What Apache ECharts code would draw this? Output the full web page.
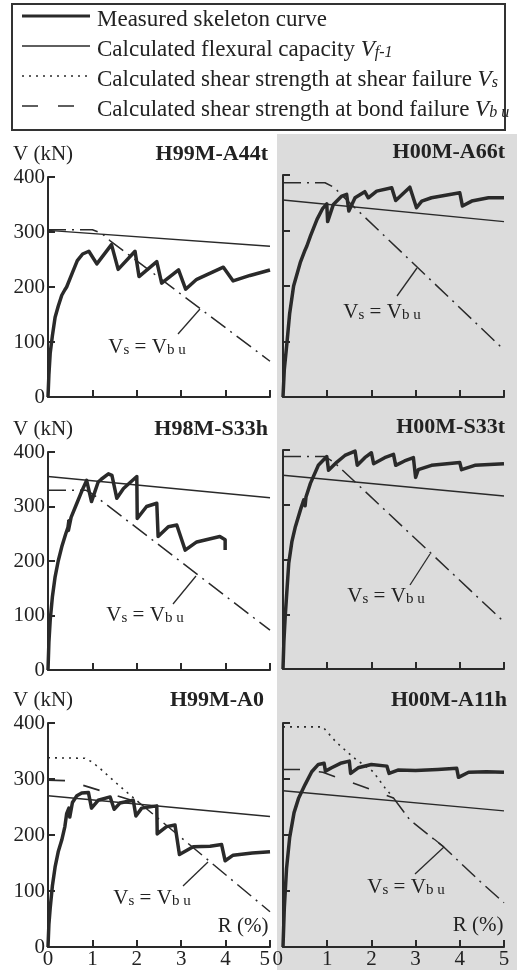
<!DOCTYPE html>
<html>
<head>
<meta charset="utf-8">
<title>Skeleton curves</title>
<script src="https://cdn.jsdelivr.net/npm/echarts@6.0.0/dist/echarts.min.js"></script>
<style>
html, body { margin: 0; padding: 0; background: #fff; }
#main { width: 517px; height: 970px; }
</style>
</head>
<body>
<div id="main"></div>
<script>
var xTicks = [0, 1, 2, 3, 4, 5];
var yTicks = [0, 100, 200, 300, 400];

var panelTitles = ["H99M-A44t", "H00M-A66t", "H98M-S33h", "H00M-S33t", "H99M-A0", "H00M-A11h"];
var legendNames = ["Measured skeleton curve", "Calculated flexural capacity", "Calculated shear strength at shear failure", "Calculated shear strength at bond failure"];

// [R (%), V (kN)]
var a44tSkeleton = [[0,0],[0.02,40],[0.05,80],[0.1,112],[0.16,145],[0.23,165],[0.31,185],[0.38,195],[0.42,200],[0.46,202],[0.55,226],[0.66,248],[0.78,260],[0.92,265],[1.1,242],[1.43,277],[1.58,232],[1.96,265],[2.05,219],[2.45,246],[2.56,207],[2.94,231],[3.1,196],[3.35,214],[3.95,236],[4.17,211],[4.55,221],[5,231]];
var a44tFlexural = [[0,303],[5,274]];
var a44tShearBond = [[0,304],[1.0,304],[1.2,298],[1.4,284],[5,65]];

var a66tSkeleton = [[0,0],[0.03,50],[0.09,98],[0.15,150],[0.24,200],[0.39,242],[0.5,265],[0.54,272],[0.56,270],[0.62,290],[0.77,320],[0.9,340],[0.99,348],[1.01,316],[1.14,347],[1.33,362],[1.44,365],[1.49,335],[1.63,359],[1.85,370],[1.93,359],[2.12,371],[2.46,377],[2.55,354],[2.87,378],[3.02,341],[3.14,353],[3.36,359],[4.0,368],[4.06,344],[4.27,353],[4.65,359],[5,359]];
var a66tFlexural = [[0,355],[5,316]];
var a66tShearBond = [[0,386],[0.95,386],[1.15,378],[1.35,362],[5,85]];

var s33hSkeleton = [[0,0],[0.02,50],[0.05,92],[0.1,135],[0.16,171],[0.23,200],[0.31,226],[0.4,250],[0.45,262],[0.47,274],[0.46,256],[0.52,280],[0.65,306],[0.75,326],[0.87,348],[0.98,309],[1.13,345],[1.2,350],[1.36,360],[1.44,357],[1.55,315],[1.7,333],[2.0,355],[2.01,278],[2.22,300],[2.45,306],[2.48,245],[2.71,263],[2.9,266],[3.09,220],[3.35,235],[3.87,245],[3.99,239],[3.99,220]];
var s33hFlexural = [[0,355],[5,316]];
var s33hShearBond = [[0,330],[0.85,330],[1.02,322],[5,73]];

var s33tSkeleton = [[0,0],[0.02,50],[0.05,96],[0.13,193],[0.2,232],[0.28,260],[0.4,292],[0.47,309],[0.5,298],[0.52,314],[0.62,339],[0.8,372],[0.99,388],[1.03,363],[1.22,378],[1.4,390],[1.63,398],[1.68,372],[1.85,386],[2.0,395],[2.05,375],[2.3,386],[2.5,392],[2.55,372],[2.75,380],[2.95,386],[3.0,350],[3.06,364],[3.36,372],[4.0,377],[4.04,364],[4.34,372],[5,375]];
var s33tFlexural = [[0,354],[5,316]];
var s33tShearBond = [[0,388],[0.95,388],[1.15,378],[5,86]];

var a0Skeleton = [[0,0],[0.02,40],[0.05,70],[0.1,110],[0.16,143],[0.23,170],[0.31,191],[0.38,215],[0.42,238],[0.47,248],[0.49,232],[0.55,258],[0.65,270],[0.76,275],[0.91,276],[0.98,248],[1.13,262],[1.4,268],[1.49,246],[1.62,257],[1.92,262],[1.98,234],[2.11,248],[2.45,252],[2.46,202],[2.67,215],[2.86,218],[2.96,165],[3.27,179],[3.65,180],[3.91,183],[3.99,154],[4.17,164],[4.6,168],[5,170]];
var a0Flexural = [[0,270],[5,233]];
var a0Shear = [[0,338],[0.83,337],[1.0,330],[1.17,319],[1.35,306],[1.55,292],[1.75,278],[2.05,258]];
var a0Bond = [[0,298],[0.45,297],[2.05,258]];
var a0ShearBond = [[2.05,258],[5,63]];

var a11hSkeleton = [[0,0],[0.03,70],[0.08,140],[0.15,195],[0.25,240],[0.35,265],[0.5,290],[0.65,313],[0.8,326],[0.93,328],[0.96,314],[1.1,320],[1.3,328],[1.5,332],[1.53,310],[1.7,320],[2.0,326],[2.35,323],[2.4,310],[2.6,316],[3.0,315],[3.5,317],[3.93,319],[3.97,303],[4.2,312],[4.6,313],[5.0,312]];
var a11hFlexural = [[0,279],[5,243]];
var a11hShear = [[0,393],[0.9,393],[1.2,366],[1.6,338],[2.04,313],[2.3,285],[2.5,266]];
var a11hBond = [[0,317],[0.45,317],[0.9,312],[2.0,281],[2.5,266]];
var a11hShearBond = [[2.5,266],[2.87,227],[3.63,179],[4.46,117],[5,79]];

var panels = [
    {skeleton: a44tSkeleton, flexural: a44tFlexural, shearBond: a44tShearBond},
    {skeleton: a66tSkeleton, flexural: a66tFlexural, shearBond: a66tShearBond},
    {skeleton: s33hSkeleton, flexural: s33hFlexural, shearBond: s33hShearBond},
    {skeleton: s33tSkeleton, flexural: s33tFlexural, shearBond: s33tShearBond},
    {skeleton: a0Skeleton, flexural: a0Flexural, shear: a0Shear, bond: a0Bond, shearBond: a0ShearBond},
    {skeleton: a11hSkeleton, flexural: a11hFlexural, shear: a11hShear, bond: a11hBond, shearBond: a11hShearBond}
];

var serif = "'Liberation Serif', 'DejaVu Serif', serif";
var ink = "#2a2a2a";
var dashDot = [18, 6, 2, 6];
var dotted = [2, 5];
var dashed = [17, 19];

var gridBoxes = [
    {left: 48, top: 177, width: 222, height: 220},
    {left: 283, top: 175, width: 221, height: 222},
    {left: 48, top: 452, width: 222, height: 218},
    {left: 283, top: 450, width: 221, height: 219},
    {left: 48, top: 723, width: 222, height: 224},
    {left: 283, top: 723, width: 221, height: 224}
];

function makeLine(name, data, idx, width, type, z) {
    return {
        name: name,
        type: "line",
        xAxisIndex: idx,
        yAxisIndex: idx,
        data: data,
        symbol: "none",
        silent: true,
        animation: false,
        z: z,
        lineStyle: {color: ink, width: width, type: type, cap: "butt", join: "round"}
    }
}

var grids = [], xAxes = [], yAxes = [], series = [], titles = [];
gridBoxes.forEach(function(box, i) {
    grids.push({left: box.left, top: box.top, width: box.width, height: box.height, outerBoundsMode: "none"});
    xAxes.push({
        type: "value",
        gridIndex: i,
        min: xTicks[0],
        max: xTicks[xTicks.length - 1],
        interval: xTicks[1] - xTicks[0],
        axisLine: {onZero: false, lineStyle: {color: ink, width: 2}},
        axisTick: {inside: true, length: 7, lineStyle: {color: ink, width: 2}},
        splitLine: {show: false},
        axisLabel: {
            show: i >= 4,
            margin: 2,
            color: "#222",
            fontSize: 21,
            fontFamily: serif,
            alignMaxLabel: i === 4 ? "right" : null,
            alignMinLabel: i === 5 ? "right" : null
        }
    });
    yAxes.push({
        type: "value",
        gridIndex: i,
        min: yTicks[0],
        max: yTicks[yTicks.length - 1],
        interval: yTicks[1] - yTicks[0],
        name: i % 2 === 0 ? "V (kN)" : "",
        nameLocation: "end",
        nameGap: 12,
        nameTextStyle: {fontSize: 21, fontFamily: serif, color: "#222", padding: [0, 10, 0, 0]},
        axisLine: {onZero: false, lineStyle: {color: ink, width: 2}},
        axisTick: {inside: true, length: 7, lineStyle: {color: ink, width: 2}},
        splitLine: {show: false},
        axisLabel: {show: i % 2 === 0, margin: 3, color: "#222", fontSize: 21, fontFamily: serif}
    });
    titles.push({
        text: panelTitles[i],
        right: i % 2 === 0 ? 249 : 12,
        top: box.top - 34,
        padding: 0,
        textStyle: {fontSize: 22, fontWeight: "bold", fontFamily: serif, color: "#222"}
    });

    var p = panels[i];
    series.push(makeLine(legendNames[1], p.flexural, i, 1.4, "solid", 3));
    series.push(makeLine("Vs = Vbu", p.shearBond, i, 1.5, dashDot, 3));
    if (p.shear) {
        series.push(makeLine(legendNames[2], p.shear, i, 1.6, dotted, 3));
        series.push(makeLine(legendNames[3], p.bond, i, 1.6, dashed, 3));
    }
    series.push(makeLine(legendNames[0], p.skeleton, i, 3.5, "solid", 4));
});
titles[4].right = 253;
titles[5].right = 10;

// legend drawn as a boxed key
var legendRich = {
    t: {fontSize: 23, fontFamily: serif, lineHeight: 28, verticalAlign: "bottom", fill: "#222"},
    v: {fontSize: 23, fontFamily: serif, fontStyle: "italic", lineHeight: 28, verticalAlign: "bottom", fill: "#222"},
    s: {fontSize: 16, fontFamily: serif, fontStyle: "italic", lineHeight: 14, verticalAlign: "bottom", fill: "#222"}
};
var legendText = [
    "{t|" + legendNames[0] + "}",
    "{t|" + legendNames[1] + " }{v|V}{s|f-1}",
    "{t|" + legendNames[2] + " }{v|V}{s|s}",
    "{t|" + legendNames[3] + " }{v|V}{s|b u}"
];
var legendDash = [null, null, dotted, [16, 20]];
var legendWidth = [3, 1.4, 1.6, 1.6];
var rowY = [17, 47, 77, 107];

var noteRich = {
    n: {fontSize: 21, fontFamily: serif, lineHeight: 26, verticalAlign: "bottom", fill: "#222"},
    s: {fontSize: 15, fontFamily: serif, lineHeight: 12, verticalAlign: "bottom", fill: "#222"}
};
var notes = [
    {x: 147, y: 345, lead: [178, 334, 200, 309]},
    {x: 382, y: 310, lead: [397, 296, 417, 268]},
    {x: 145, y: 613, lead: [173, 604, 196, 576]},
    {x: 386, y: 594, lead: [410, 585, 430, 554]},
    {x: 152, y: 896, lead: [183, 886, 208, 862]},
    {x: 406, y: 885, lead: [415, 874, 444, 847]}
];

var graphics = [
    {type: "rect", z: -10, shape: {x: 277, y: 134, width: 240, height: 836}, style: {fill: "#dcdcdc"}},
    {type: "rect", shape: {x: 12, y: 4, width: 493, height: 126}, style: {fill: "none", stroke: "#333", lineWidth: 2}}
];
rowY.forEach(function(y, k) {
    graphics.push({
        type: "line",
        shape: {x1: 22, y1: y - 1, x2: 90, y2: y - 1},
        style: {stroke: ink, lineWidth: legendWidth[k], lineDash: legendDash[k]}
    });
    graphics.push({
        type: "text",
        style: {x: 97, y: y, text: legendText[k], rich: legendRich, align: "left", verticalAlign: "middle"}
    });
});
notes.forEach(function(n) {
    graphics.push({
        type: "text",
        style: {x: n.x, y: n.y, text: "{n|V}{s|s}{n| = V}{s|b u}", rich: noteRich, align: "center", verticalAlign: "middle"}
    });
    graphics.push({
        type: "line",
        shape: {x1: n.lead[0], y1: n.lead[1], x2: n.lead[2], y2: n.lead[3]},
        style: {stroke: ink, lineWidth: 1.3}
    });
});
graphics.push({type: "line", shape: {x1: 444, y1: 847, x2: 434, y2: 839}, style: {stroke: ink, lineWidth: 1.3}});
[[243, 926], [478, 925]].forEach(function(pos) {
    graphics.push({
        type: "text",
        style: {x: pos[0], y: pos[1], text: "R (%)", fontSize: 21, fontFamily: serif, fill: "#222", align: "center", verticalAlign: "middle"}
    });
});

var option = {
    backgroundColor: "#fff",
    animation: false,
    title: titles,
    grid: grids,
    xAxis: xAxes,
    yAxis: yAxes,
    series: series,
    graphic: graphics
};

var myChart = echarts.init(document.getElementById("main"));
myChart.setOption(option);
</script>
</body>
</html>
